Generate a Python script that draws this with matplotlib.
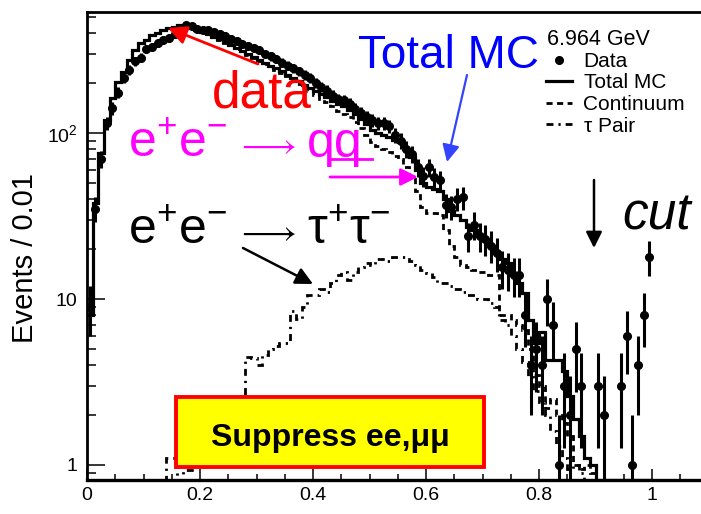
import numpy as np
import matplotlib
matplotlib.use("Agg")
import matplotlib.pyplot as plt
from matplotlib.lines import Line2D
from matplotlib.patches import Rectangle
from matplotlib.ticker import MultipleLocator, FixedLocator, NullFormatter

plt.rcParams['font.family'] = ['Liberation Sans', 'DejaVu Sans']
plt.rcParams['mathtext.fontset'] = 'custom'
plt.rcParams['mathtext.rm'] = 'Liberation Sans'
plt.rcParams['mathtext.it'] = 'Liberation Sans:italic'
plt.rcParams['mathtext.bf'] = 'Liberation Sans:bold'

# histogram binning: 0.01 wide bins from 0 to 1
bin_edges = np.round(np.arange(0, 1.001, 0.01), 3)

total_mc = [8, 38, 76, 120, 163, 204, 233, 275, 316, 348,
            363, 390, 400, 417, 430, 437, 445, 445, 430, 420,
            405, 395, 380, 368, 352, 340, 325, 312, 300, 288,
            275, 265, 255, 245, 235, 225, 215, 205, 196, 188,
            180, 172, 165, 157, 150, 145, 138, 130, 122, 113,
            104, 100, 97, 94, 91, 88, 80, 72, 60, 50,
            47, 46, 45, 40, 34, 32, 30, 27, 26, 24,
            22.6, 21, 19, 17.5, 16.5, 14, 12.5, 10.9, 7.5, 5.4,
            6.3, 4.3, 4.3, 4.3, 3.7, 2.6, 1.9, 1.5, 1.1, 1.0,
            0, 0, 0, 0, 0, 0, 0, 0, 0, 0]

continuum = [8, 38, 76, 120, 163, 204, 233, 275, 316, 348,
             363, 390, 400, 417, 429, 436, 445, 444, 429, 419,
             404, 394, 379, 366, 350, 338, 323, 310, 296, 284,
             271, 260, 250, 240, 230, 220, 207, 198, 187, 178,
             170, 161, 154, 145, 136, 131, 125, 116, 107, 97,
             88, 83, 80, 77, 73, 70, 62, 55, 45, 36,
             33, 33, 32, 26, 21, 18, 16, 15.5, 15, 14.5,
             14.5, 14, 14, 8, 8, 7.5, 7, 6.5, 5, 3.5,
             3.0, 2.2, 2.5, 2.0, 1.8, 1.5, 1.0, 0.95, 1.0, 0.9,
             0, 0, 0, 0, 0, 0, 0, 0, 0, 0]

tau_pair = [0, 0, 0, 0, 0, 0, 0, 0, 0, 0,
            0, 0, 0, 0, 1.1, 1.1, 0, 0.93, 0.93, 1.0,
            1.0, 1.2, 1.4, 1.6, 1.8, 2.0, 2.2, 2.5, 4.5, 4.4,
            4.0, 4.6, 5.0, 5.2, 5.4, 5.4, 8.5, 7.6, 9.0, 10.5,
            10.5, 11.5, 11, 12.5, 14, 14.5, 13, 14.5, 15.5, 16.5,
            16, 17.5, 17.5, 17, 18, 18, 18, 17, 16, 15,
            14.4, 13.5, 12.5, 12.5, 12, 11.5, 11, 10.5, 10.5, 10,
            10, 9.5, 9, 7.5, 7, 6.0, 5.0, 4.2, 3.4, 2.8,
            2.4, 2.0, 1.6, 1.3, 1.1, 0.95, 1.0, 0.9, 0, 0,
            0, 0, 0, 0, 0, 0, 0, 0, 0, 0]

data_counts = [9, 35, 70, 115, 141, 175, 215, 240, 270, 285,
               320, 330, 350, 365, 375, 395, 430, 445, 440, 425,
               420, 415, 405, 395, 385, 370, 360, 345, 335, 325,
               316, 300, 290, 280, 265, 255, 245, 236, 225, 215,
               200, 190, 180, 168, 160, 158, 150, 140, 132, 125,
               120, 115, 115, 110, 97, 90, 80, 75, 62, 55,
               62, 54, 52, 37, 36, 40, 41, 24, 28, 24,
               23, 21, 19, 15.5, 15, 14, 14, 8, 4, 5,
               4, 10, 7, 1, 3, 2, 5, 3, 0, 0,
               3, 2, 0, 0, 3, 6, 1, 4, 8, 18]

y_lo, y_hi = 0.812, 536

fig = plt.figure(figsize=(7.01, 5.14), dpi=100)
W, H = 701, 514


def fpos(x, y):
    # pixel position (from top-left) -> figure fraction
    return (x / W, 1 - y / H)


ax = fig.add_axes([87 / W, 34 / H, 678 / W, 468 / H])
ax.set_yscale('log')
ax.set_xlim(0, 1.2)
ax.set_ylim(y_lo, y_hi)

# ROOT draws empty bins along the bottom of a log axis
def show(vals):
    v = np.asarray(vals, dtype=float)
    return np.where(v > 0, v, y_lo)

ax.stairs(show(total_mc), bin_edges, color='black', lw=2.3, baseline=None)
ax.stairs(show(continuum), bin_edges, color='black', lw=2.0,
          linestyle=(0, (2.2, 1.6)), baseline=None)
ax.stairs(show(tau_pair), bin_edges, color='black', lw=2.0,
          linestyle=(0, (2.5, 1.8, 0.8, 1.8)), baseline=None)

centers = 0.5 * (bin_edges[:-1] + bin_edges[1:])
d = np.asarray(data_counts, dtype=float)
keep = d > 0
err = np.sqrt(d[keep])
low = d[keep] - np.maximum(d[keep] - err, y_lo * 0.9)
ax.errorbar(centers[keep], d[keep], yerr=[low, err], fmt='o', color='black',
            ms=5.5, elinewidth=2.2, capsize=0)

# frame and ticks in ROOT style
for side in ['left', 'bottom', 'top']:
    ax.spines[side].set_linewidth(2.0)
ax.spines['bottom'].set_linewidth(2.4)
ax.spines['right'].set_visible(False)

ax.xaxis.set_major_locator(MultipleLocator(0.2))
ax.xaxis.set_minor_locator(MultipleLocator(0.05))
ax.set_xticks([0, 0.2, 0.4, 0.6, 0.8, 1.0], ['0', '0.2', '0.4', '0.6', '0.8', '1'])
ax.set_yticks([1, 10, 100], ['1', '10', r'10$^{2}$'])
ax.yaxis.set_minor_locator(FixedLocator(
    [m * 10 ** e for e in range(-1, 3) for m in range(2, 10)]))
ax.yaxis.set_minor_formatter(NullFormatter())
ax.tick_params(axis='y', which='major', direction='in', length=13, width=1.1,
               labelsize=14, pad=7)
ax.tick_params(axis='y', which='minor', direction='in', length=6.5, width=1.1)
ax.tick_params(axis='x', which='major', direction='in', length=8, width=1.1,
               labelsize=14, pad=5)
ax.tick_params(axis='x', which='minor', direction='in', length=4, width=1.1)

fig.text(*fpos(25, 258), 'Events / 0.01', rotation=90, ha='center',
         va='center', fontsize=21)

# legend
handles = [Line2D([], [], marker='o', ls='none', color='black', ms=5.5),
           Line2D([], [], color='black', lw=2.3),
           Line2D([], [], color='black', lw=2.0, ls=(0, (2.2, 1.6))),
           Line2D([], [], color='black', lw=2.0, ls=(0, (2.5, 1.8, 0.8, 1.8)))]
fig.legend(handles, ['Data', 'Total MC', 'Continuum', 'τ Pair'],
           loc='upper left', bbox_to_anchor=fpos(546, 52), frameon=False,
           fontsize=15, handlelength=1.25, handletextpad=0.55,
           labelspacing=0.12, borderpad=0, borderaxespad=0)
fig.text(*fpos(547, 45), '6.964 GeV', fontsize=15.5, va='baseline')

# annotations
fig.text(*fpos(212, 108), 'data', color='red', fontsize=37, va='baseline')
ax.annotate('', xy=fpos(168, 28), xytext=fpos(258, 64),
            xycoords='figure fraction', textcoords='figure fraction',
            arrowprops=dict(arrowstyle='-|>', color='red', lw=2,
                            mutation_scale=28, shrinkA=0, shrinkB=0))

fig.text(*fpos(358, 68), 'Total MC', color='#0000ff', fontsize=33, va='baseline')
ax.annotate('', xy=fpos(447, 162), xytext=fpos(467, 75),
            xycoords='figure fraction', textcoords='figure fraction',
            arrowprops=dict(arrowstyle='-|>', color='#3344ff', lw=1.6,
                            mutation_scale=26, shrinkA=0, shrinkB=0))


def reaction(y, products, color):
    # "e+e- -> X" written in three pieces so the arrow gets its own size
    fig.text(*fpos(128, y), r'e$^{+}$e$^{-}$', color=color, fontsize=36,
             va='baseline')
    fig.text(*fpos(236, y - 3), r'$\longrightarrow$', color=color,
             fontsize=25, va='baseline')
    fig.text(*fpos(307, y), products, color=color, fontsize=36, va='baseline')


reaction(157, 'qq', 'magenta')
fig.add_artist(Line2D([330 / W, 372 / W], [1 - 159 / H, 1 - 159 / H],
                      color='magenta', lw=2))
ax.annotate('', xy=fpos(418, 177), xytext=fpos(330, 177),
            xycoords='figure fraction', textcoords='figure fraction',
            arrowprops=dict(arrowstyle='-|>', color='magenta', lw=2,
                            mutation_scale=26, shrinkA=0, shrinkB=0))

reaction(244, r'τ$^{+}$τ$^{-}$', 'black')
ax.annotate('', xy=fpos(313, 284), xytext=fpos(243, 248),
            xycoords='figure fraction', textcoords='figure fraction',
            arrowprops=dict(arrowstyle='-|>', color='black', lw=1.8,
                            mutation_scale=26, shrinkA=0, shrinkB=0))

fig.text(*fpos(622, 230), 'cut', fontsize=37, style='italic', va='baseline')
ax.annotate('', xy=fpos(594, 248), xytext=fpos(594, 180),
            xycoords='figure fraction', textcoords='figure fraction',
            arrowprops=dict(arrowstyle='-|>', color='black', lw=1.8,
                            mutation_scale=24, shrinkA=0, shrinkB=0))

box_x0, box_y0 = fpos(176, 467)
box_x1, box_y1 = fpos(484, 397)
fig.add_artist(Rectangle((box_x0, box_y0), box_x1 - box_x0, box_y1 - box_y0,
                         transform=fig.transFigure, facecolor='yellow',
                         edgecolor='red', lw=2.8))
fig.text(*fpos(330, 446), 'Suppress ee,μμ', fontsize=23, fontweight='bold',
         ha='center', va='baseline')

fig.savefig('out.png', dpi=100)
